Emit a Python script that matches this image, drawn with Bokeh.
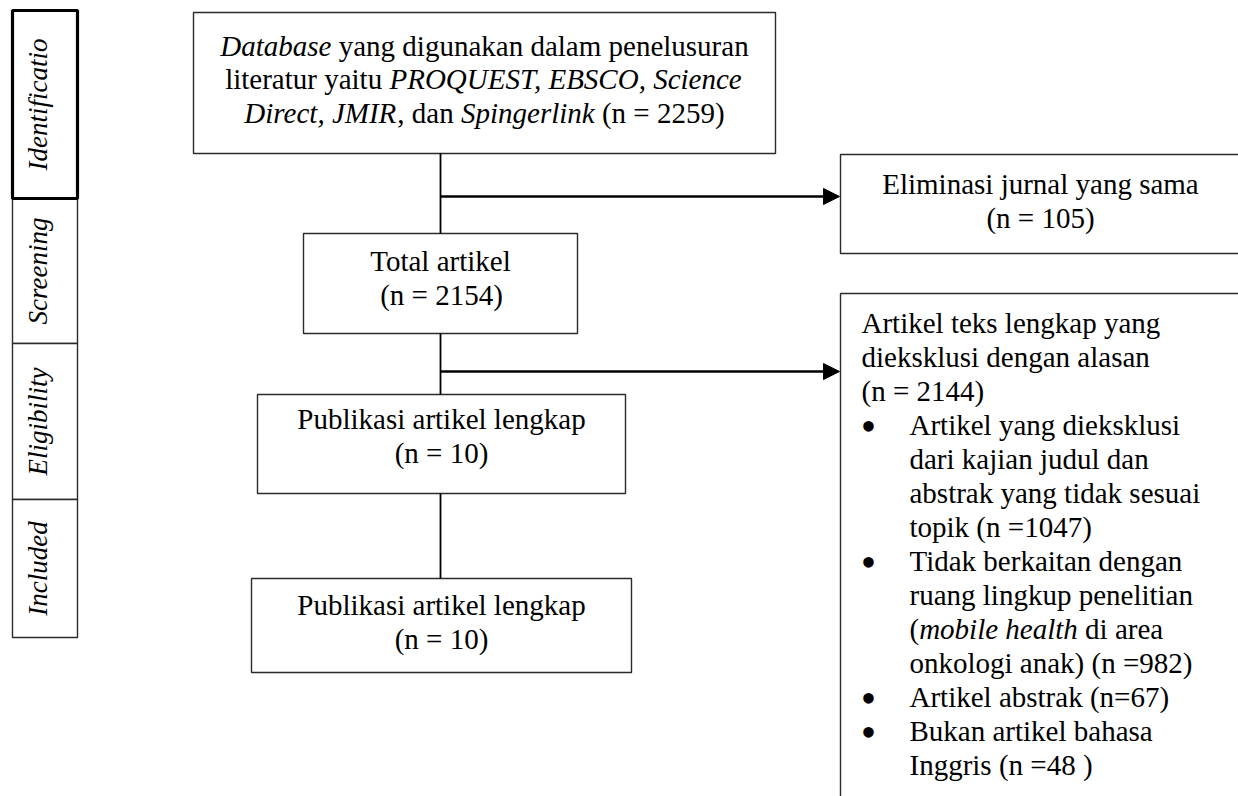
import math
from bokeh.plotting import figure
from bokeh.models import Range1d, ColumnDataSource, Arrow, NormalHead
from bokeh.core.properties import value
from bokeh.embed import file_html
from bokeh.resources import INLINE

# ---------------- data (texts) ----------------
stage_labels = ["Identificatio", "Screening", "Eligibility", "Included"]

# segments: (text, italic?)
top_lines = [
    [("Database", True), (" yang digunakan dalam penelusuran", False)],
    [("literatur yaitu ", False), ("PROQUEST, EBSCO, Science", True)],
    [("Direct, JMIR", True), (", dan ", False), ("Spingerlink", True), (" (n = 2259)", False)],
]
dup_lines = [[("Eliminasi jurnal yang sama", False)], [("(n = 105)", False)]]
total_lines = [[("Total artikel", False)], [("(n = 2154)", False)]]
full_lines = [[("Publikasi artikel lengkap", False)], [("(n = 10)", False)]]
incl_lines = [[("Publikasi artikel lengkap", False)], [("(n = 10)", False)]]

# exclusion box: (bullet?, indent?, segments)
excl_lines = [
    (False, False, [("Artikel teks lengkap yang", False)]),
    (False, False, [("dieksklusi dengan alasan", False)]),
    (False, False, [("(n = 2144)", False)]),
    (True, True, [("Artikel yang dieksklusi", False)]),
    (False, True, [("dari kajian judul dan", False)]),
    (False, True, [("abstrak yang tidak sesuai", False)]),
    (False, True, [("topik (n =1047)", False)]),
    (True, True, [("Tidak berkaitan dengan", False)]),
    (False, True, [("ruang lingkup penelitian", False)]),
    (False, True, [("(", False), ("mobile health", True), (" di area", False)]),
    (False, True, [("onkologi anak) (n =982)", False)]),
    (True, True, [("Artikel abstrak (n=67)", False)]),
    (True, True, [("Bukan artikel bahasa", False)]),
    (False, True, [("Inggris (n =48 )", False)]),
]

# ---------------- layout (pixel positions) ----------------
FONT = "Liberation Serif"
FS = 29.0
LH = 34.0
BOFF = -10.0   # renderer baseline correction
stage_bounds = [10, 198, 343, 499, 637]
stage_x = (12, 77)

REG = {' ': 250, '(': 333, ')': 333, ',': 250, '.': 250, '=': 564}
ITA = {' ': 250, '(': 333, ')': 333, ',': 250, '.': 250, '=': 675}
for d in "0123456789":
    REG[d] = 500
    ITA[d] = 500
REG.update(dict(A=722, B=667, C=667, D=722, E=611, F=556, G=722, H=722, I=333, J=389, K=722, L=611, M=889,
                N=722, O=722, P=556, Q=722, R=667, S=556, T=611, U=722, V=722, W=944, X=722, Y=722, Z=611,
                a=444, b=500, c=444, d=500, e=444, f=333, g=500, h=500, i=278, j=278, k=500, l=278, m=778,
                n=500, o=500, p=500, q=500, r=333, s=389, t=278, u=500, v=500, w=722, x=500, y=500, z=444))
ITA.update(dict(A=611, B=611, C=667, D=722, E=611, F=611, G=722, H=722, I=333, J=444, K=667, L=556, M=833,
                N=667, O=722, P=611, Q=722, R=611, S=500, T=556, U=722, V=611, W=833, X=611, Y=556, Z=556,
                a=500, b=500, c=444, d=500, e=444, f=278, g=500, h=500, i=278, j=278, k=444, l=278, m=722,
                n=500, o=500, p=500, q=500, r=389, s=389, t=278, u=500, v=444, w=667, x=444, y=444, z=389))


def tw(s, italic):
    tab = ITA if italic else REG
    return sum(tab.get(c, 500) for c in s) / 1000.0 * FS


reg = dict(x=[], y=[], text=[])
ita = dict(x=[], y=[], text=[])


def place(segs, x0, y):
    x = x0
    for s, it in segs:
        lead = len(s) - len(s.lstrip(' '))
        st = s.strip(' ')
        if st:
            tgt = ita if it else reg
            tgt["x"].append(x + tw(s[:lead], it))
            tgt["y"].append(y + BOFF)
            tgt["text"].append(st)
        x += tw(s, it)


def centered(lines, cx, y0, lh=LH):
    for i, segs in enumerate(lines):
        total = sum(tw(s, it) for s, it in segs)
        place(segs, cx - total / 2.0, y0 + i * lh)


centered(top_lines, 484, 55, 33.5)
centered(dup_lines, 1040, 193)
centered(total_lines, 441, 270)
centered(full_lines, 441, 428)
centered(incl_lines, 441, 614)

bul = dict(x=[], y=[], text=[])
for i, (b, ind, segs) in enumerate(excl_lines):
    y = 332 + i * LH
    place(segs, 909 if ind else 861, y)
    if b:
        bul["x"].append(868)
        bul["y"].append(y + BOFF + 2)
        bul["text"].append("\u2022")

p = figure(width=1238, height=796, x_range=Range1d(0, 1238), y_range=Range1d(796, 0),
           output_backend="svg", toolbar_location=None, min_border=0)
p.axis.visible = False
p.grid.visible = False
p.outline_line_color = None
p.background_fill_color = "white"
p.border_fill_color = "white"

BOX = "#2b2b2b"
# boxes (left, top, right, bottom)
boxes = dict(left=[193, 303, 257, 251, 840], top=[12, 233, 394, 578, 154],
             right=[775, 577, 625, 631, 1260], bottom=[153, 333, 493, 672, 253])
p.quad(left="left", right="right", top="top", bottom="bottom", source=ColumnDataSource(boxes),
       fill_color="white", line_color=BOX, line_width=1.4)
# exclusion box (open at bottom/right in picture)
p.quad(left=[840], right=[1260], top=[293], bottom=[830], fill_color="white", line_color=BOX, line_width=1.4)

# stage side bars
sl = [stage_x[0]] * 4
sr = [stage_x[1]] * 4
p.quad(left=sl[1:], right=sr[1:], top=stage_bounds[1:4], bottom=stage_bounds[2:5],
       fill_color="white", line_color=BOX, line_width=1.4)
p.quad(left=[sl[0]], right=[sr[0]], top=[stage_bounds[0]], bottom=[stage_bounds[1]],
       fill_color="white", line_color="black", line_width=3.2)
sy = [(stage_bounds[i] + stage_bounds[i + 1]) / 2.0 for i in range(4)]
p.text(x=[47 + BOFF] * 4, y=sy, text=stage_labels, angle=math.pi / 2, text_align="center",
       text_baseline="alphabetic", text_font=value(FONT), text_font_style="italic",
       text_font_size="27px", text_color="black")

# connectors
p.segment(x0=[440, 440, 440], y0=[153, 333, 493], x1=[440, 440, 440], y1=[233, 394, 578],
          line_color="black", line_width=1.8)
for yy in (196, 371):
    p.add_layout(Arrow(end=NormalHead(size=16, fill_color="black", line_color="black"),
                       x_start=440, y_start=yy, x_end=839, y_end=yy,
                       line_color="black", line_width=2.6))

p.text(x="x", y="y", text="text", source=ColumnDataSource(reg), text_align="left",
       text_baseline="alphabetic", text_font=value(FONT), text_font_size=f"{FS}px", text_color="black")
p.text(x="x", y="y", text="text", source=ColumnDataSource(ita), text_align="left",
       text_baseline="alphabetic", text_font=value(FONT), text_font_style="italic",
       text_font_size=f"{FS}px", text_color="black")
p.text(x="x", y="y", text="text", source=ColumnDataSource(bul), text_align="center",
       text_baseline="alphabetic", text_font=value(FONT), text_font_size="44px", text_color="black")

open("out.html", "w").write(file_html(p, INLINE))
